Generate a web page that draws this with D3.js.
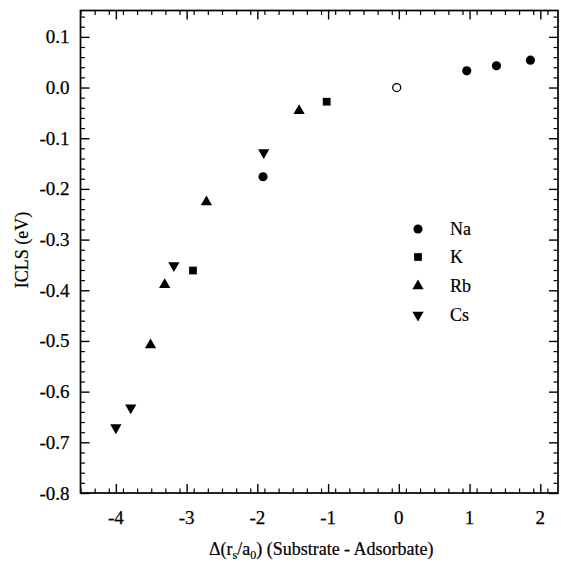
<!DOCTYPE html>
<html><head><meta charset="utf-8">
<script src="https://cdn.jsdelivr.net/npm/d3@7"></script>
<style>body{margin:0;background:#fff}</style>
</head><body><svg id="c" width="561" height="564"></svg>
<script>
// Data
const naX = [-1.92, 0.96, 1.38, 1.86];
const naY = [-0.176, 0.033, 0.043, 0.054];
const kX = [-1.02, -2.91];
const kY = [-0.028, -0.361];
const rbX = [-1.41, -2.72, -3.31, -3.51];
const rbY = [-0.046, -0.226, -0.389, -0.508];
const csX = [-1.91, -3.18, -3.79, -4.00];
const csY = [-0.128, -0.351, -0.632, -0.671];
const refX = [-0.03];
const refY = [0.0];
const xTicks = [-4, -3, -2, -1, 0, 1, 2];
const yTicks = [0.1, 0.0, -0.1, -0.2, -0.3, -0.4, -0.5, -0.6, -0.7, -0.8];
const legendLabels = ["Na", "K", "Rb", "Cs"];

const FONT = "'Liberation Serif', 'Times New Roman', 'DejaVu Serif', serif";
const L = 80.5, R = 558, T = 10.5, B = 493;
const svg = d3.select("#c").attr("font-family", FONT);
const x = d3.scaleLinear().domain([-4.5, 2.25]).range([L, R]);
const y = d3.scaleLinear().domain([-0.8, 0.152]).range([B, T]);

const xMinor = d3.range(-45, 23, 2).map(d => d / 10).filter(d => !xTicks.some(t => Math.abs(t - d) < 1e-6));
const yMinor = d3.range(-80, 16, 2).map(d => d / 100).filter(d => !yTicks.some(t => Math.abs(t - d) < 1e-6));

function axisGroup(axisFn, scale, ticks, len, pos, minor) {
  const g = svg.append("g").attr("transform", pos);
  g.call(axisFn(scale).tickValues(ticks).tickSize(len).tickFormat(""));
  g.select(".domain").remove();
  g.selectAll("line").attr("stroke", "#000").attr("stroke-width", 1.4);
  const gm = svg.append("g").attr("transform", pos);
  gm.call(axisFn(scale).tickValues(minor).tickSize(len / 2).tickFormat(""));
  gm.select(".domain").remove();
  gm.selectAll("line").attr("stroke", "#000").attr("stroke-width", 1.2);
  return g;
}
axisGroup(d3.axisTop, x, xTicks, 9, `translate(0,${B})`, xMinor);
axisGroup(d3.axisBottom, x, xTicks, 9, `translate(0,${T})`, xMinor);
axisGroup(d3.axisRight, y, yTicks, 9, `translate(${L},0)`, yMinor);
axisGroup(d3.axisLeft, y, yTicks, 9, `translate(${R},0)`, yMinor);

// frame
svg.append("rect").attr("x", L).attr("y", T).attr("width", R - L).attr("height", B - T)
  .attr("fill", "none").attr("stroke", "#000").attr("stroke-width", 1.7);

// tick labels
svg.append("g").selectAll("text").data(xTicks).join("text")
  .attr("font-family", FONT).attr("stroke", "#000").attr("stroke-width", 0.25)
  .attr("x", d => x(d)).attr("y", B + 31).attr("text-anchor", "middle")
  .attr("font-size", 19).text(d => d < 0 ? "-" + Math.abs(d) : d);
svg.append("g").selectAll("text").data(yTicks).join("text")
  .attr("font-family", FONT).attr("stroke", "#000").attr("stroke-width", 0.25)
  .attr("x", L - 11).attr("y", d => y(d) + 6.5).attr("text-anchor", "end")
  .attr("font-size", 19).text(d => d3.format(".1f")(d).replace("−", "-"));

// axis titles
const xt = svg.append("text").attr("font-family", FONT).attr("x", (L + R) / 2 + 2).attr("y", 555)
  .attr("text-anchor", "middle").attr("font-size", 18).attr("stroke", "#000").attr("stroke-width", 0.2);
xt.append("tspan").text("Δ(r");
xt.append("tspan").attr("font-size", 12).attr("dy", 4).text("s");
xt.append("tspan").attr("dy", -4).text("/a");
xt.append("tspan").attr("font-size", 12).attr("dy", 4).text("0");
xt.append("tspan").attr("dy", -4).text(") (Substrate - Adsorbate)");
svg.append("text").attr("font-family", FONT).attr("transform", `translate(28,${250}) rotate(-90)`)
  .attr("stroke", "#000").attr("stroke-width", 0.2)
  .attr("text-anchor", "middle").attr("font-size", 18).text("ICLS (eV)");

// markers
const sym = {
  Na: d3.symbol().type(d3.symbolCircle).size(66),
  K: d3.symbol().type(d3.symbolSquare).size(60),
  Rb: d3.symbol().type(d3.symbolTriangle).size(55),
  Cs: d3.symbol().type(d3.symbolTriangle).size(55)
};
const series = [
  {name: "Na", xs: naX, ys: naY, rot: 0},
  {name: "K", xs: kX, ys: kY, rot: 0},
  {name: "Rb", xs: rbX, ys: rbY, rot: 0},
  {name: "Cs", xs: csX, ys: csY, rot: 180}
];
series.forEach(s => {
  svg.append("g").selectAll("path").data(s.xs.map((v, i) => [v, s.ys[i]])).join("path")
    .attr("d", sym[s.name]()).attr("fill", "#000")
    .attr("transform", d => `translate(${x(d[0])},${y(d[1])}) rotate(${s.rot})`);
});
svg.append("g").selectAll("circle").data(refX.map((v, i) => [v, refY[i]])).join("circle")
  .attr("cx", d => x(d[0])).attr("cy", d => y(d[1])).attr("r", 4)
  .attr("fill", "#fff").attr("stroke", "#000").attr("stroke-width", 1.3);

// legend
const legY = [229, 257, 286, 315];
legendLabels.forEach((lab, i) => {
  svg.append("path").attr("d", sym[lab]()).attr("fill", "#000")
    .attr("transform", `translate(418,${legY[i]}) rotate(${series[i].rot})`);
  svg.append("text").attr("font-family", FONT).attr("x", 450).attr("y", legY[i] + 6)
    .attr("stroke", "#000").attr("stroke-width", 0.2)
    .attr("font-size", 18).text(lab);
});
</script></body></html>
